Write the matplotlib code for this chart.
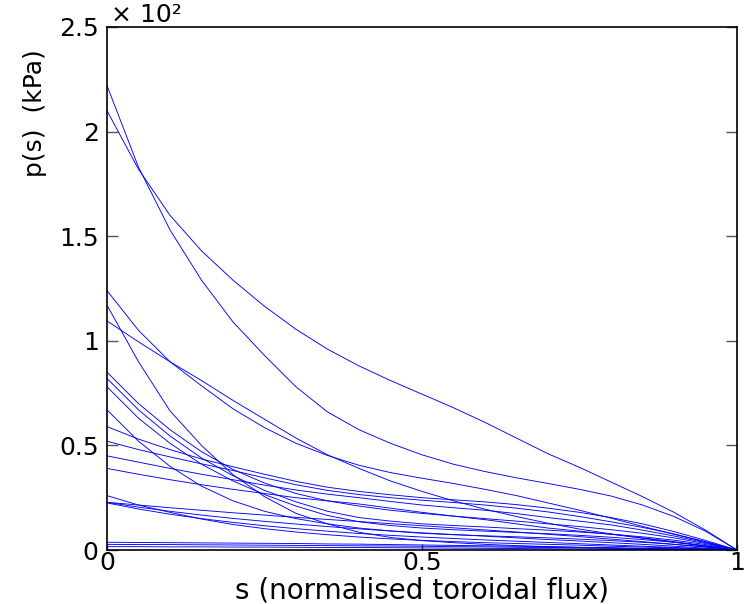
import matplotlib
matplotlib.use("Agg")
import matplotlib.pyplot as plt

# radial grid (normalised toroidal flux)
s = [0, 0.05, 0.1, 0.15, 0.2, 0.25, 0.3, 0.35, 0.4, 0.45, 0.5,
     0.55, 0.6, 0.65, 0.7, 0.75, 0.8, 0.85, 0.9, 0.95, 1.0]

# pressure profiles (units of 10^2 kPa)
p_a = [2.22, 1.83, 1.53, 1.29, 1.09, 0.93, 0.78, 0.66, 0.575, 0.51, 0.455,
       0.41, 0.375, 0.345, 0.318, 0.29, 0.258, 0.215, 0.16, 0.09, 0]
p_b = [2.10, 1.82, 1.60, 1.43, 1.29, 1.165, 1.055, 0.96, 0.88, 0.81, 0.745,
       0.68, 0.61, 0.535, 0.46, 0.395, 0.325, 0.255, 0.18, 0.095, 0]
p_c = [1.24, 1.05, 0.90, 0.785, 0.675, 0.585, 0.51, 0.452, 0.405, 0.37, 0.343,
       0.318, 0.29, 0.26, 0.225, 0.19, 0.152, 0.113, 0.075, 0.038, 0]
p_d = [1.17, 0.90, 0.665, 0.50, 0.36, 0.255, 0.175, 0.125, 0.085, 0.06, 0.045,
       0.035, 0.027, 0.021, 0.016, 0.012, 0.009, 0.006, 0.004, 0.002, 0]
p_e = [1.095, 0.995, 0.90, 0.81, 0.715, 0.625, 0.535, 0.455, 0.39, 0.33, 0.28,
       0.235, 0.195, 0.16, 0.128, 0.10, 0.077, 0.056, 0.037, 0.018, 0]
p_f = [0.85, 0.70, 0.575, 0.47, 0.385, 0.32, 0.27, 0.235, 0.21, 0.19, 0.175,
       0.162, 0.15, 0.138, 0.125, 0.112, 0.097, 0.08, 0.058, 0.031, 0]
p_g = [0.82, 0.67, 0.545, 0.44, 0.355, 0.285, 0.23, 0.185, 0.155, 0.138, 0.125,
       0.117, 0.11, 0.102, 0.095, 0.086, 0.076, 0.063, 0.047, 0.026, 0]
p_h = [0.78, 0.63, 0.51, 0.41, 0.33, 0.265, 0.21, 0.165, 0.135, 0.117, 0.105,
       0.097, 0.09, 0.084, 0.078, 0.07, 0.061, 0.05, 0.037, 0.02, 0]
p_i = [0.67, 0.52, 0.40, 0.305, 0.235, 0.185, 0.15, 0.125, 0.105, 0.091, 0.08,
       0.073, 0.068, 0.063, 0.058, 0.052, 0.045, 0.037, 0.027, 0.015, 0]
p_j = [0.59, 0.53, 0.48, 0.435, 0.398, 0.362, 0.328, 0.30, 0.28, 0.264, 0.25,
       0.24, 0.23, 0.217, 0.20, 0.18, 0.155, 0.125, 0.088, 0.046, 0]
p_k = [0.52, 0.48, 0.445, 0.412, 0.38, 0.345, 0.312, 0.285, 0.265, 0.25, 0.238,
       0.227, 0.215, 0.20, 0.182, 0.16, 0.135, 0.108, 0.077, 0.04, 0]
p_l = [0.45, 0.42, 0.39, 0.362, 0.336, 0.31, 0.287, 0.267, 0.25, 0.232, 0.215,
       0.202, 0.19, 0.174, 0.155, 0.138, 0.12, 0.095, 0.067, 0.035, 0]
p_m = [0.39, 0.362, 0.336, 0.312, 0.29, 0.27, 0.25, 0.235, 0.22, 0.20, 0.18,
       0.162, 0.145, 0.125, 0.105, 0.09, 0.075, 0.058, 0.04, 0.02, 0]
p_n = [0.26, 0.215, 0.18, 0.148, 0.122, 0.102, 0.086, 0.073, 0.062, 0.053, 0.046,
       0.04, 0.035, 0.031, 0.027, 0.023, 0.018, 0.014, 0.01, 0.005, 0]
p_o = [0.228, 0.215, 0.202, 0.19, 0.178, 0.167, 0.156, 0.146, 0.136, 0.126, 0.116,
       0.106, 0.096, 0.086, 0.075, 0.064, 0.052, 0.04, 0.027, 0.014, 0]
p_p = [0.228, 0.205, 0.185, 0.167, 0.151, 0.137, 0.124, 0.112, 0.101, 0.091, 0.082,
       0.074, 0.066, 0.058, 0.05, 0.043, 0.035, 0.027, 0.018, 0.009, 0]
p_q = [0.225, 0.196, 0.171, 0.15, 0.132, 0.116, 0.102, 0.09, 0.079, 0.07, 0.062,
       0.055, 0.048, 0.042, 0.036, 0.03, 0.024, 0.018, 0.012, 0.006, 0]
p_r = [0.037, 0.036, 0.035, 0.034, 0.033, 0.032, 0.031, 0.029, 0.028, 0.026, 0.024,
       0.022, 0.02, 0.018, 0.016, 0.013, 0.011, 0.008, 0.006, 0.003, 0]
p_t = [0.027, 0.026, 0.026, 0.025, 0.024, 0.023, 0.022, 0.021, 0.02, 0.019, 0.018,
       0.016, 0.015, 0.013, 0.012, 0.01, 0.008, 0.006, 0.004, 0.002, 0]
p_u = [0.016, 0.016, 0.015, 0.015, 0.014, 0.014, 0.013, 0.012, 0.012, 0.011, 0.01,
       0.009, 0.008, 0.007, 0.006, 0.005, 0.004, 0.003, 0.002, 0.001, 0]

profiles = [p_a, p_b, p_c, p_d, p_e, p_f, p_g, p_h, p_i, p_j,
            p_k, p_l, p_m, p_n, p_o, p_p, p_q, p_r, p_t, p_u]

y_ticks = [0, 0.5, 1, 1.5, 2, 2.5]
y_tick_labels = ['0', '0.5', '1', '1.5', '2', '2.5']
x_ticks = [0, 0.5, 1]
x_tick_labels = ['0', '0.5', '1']

plt.rcParams['font.family'] = ['DejaVu Sans']

fig = plt.figure(figsize=(7.44, 6.04), dpi=100)
ax = fig.add_axes([107 / 744, 54 / 604, 630 / 744, 523 / 604])

for p in profiles:
    ax.plot(s, p, color='#0000ff', linewidth=0.65)

ax.set_xlim(0, 1)
ax.set_ylim(0, 2.5)
ax.set_xticks(x_ticks)
ax.set_xticklabels(x_tick_labels, fontsize=18)
ax.set_yticks(y_ticks)
ax.set_yticklabels(y_tick_labels, fontsize=18)
ax.tick_params(axis='y', direction='in', length=8, width=1.0, color='#555555',
               right=True, pad=6)
ax.tick_params(axis='x', direction='in', length=4, width=1.0, color='#333333',
               pad=1)
for sp in ax.spines.values():
    sp.set_linewidth(1.2)

ax.set_xlabel('s (normalised toroidal flux)', fontsize=20, labelpad=1)
ax.set_ylabel('p(s)  (kPa)', fontsize=18)
ax.yaxis.set_label_coords(-0.095, 0.835)

ax.text(0.006, 1.0, '× 10²', transform=ax.transAxes,
        fontsize=18, ha='left', va='bottom')

fig.savefig('out.png', dpi=100)
